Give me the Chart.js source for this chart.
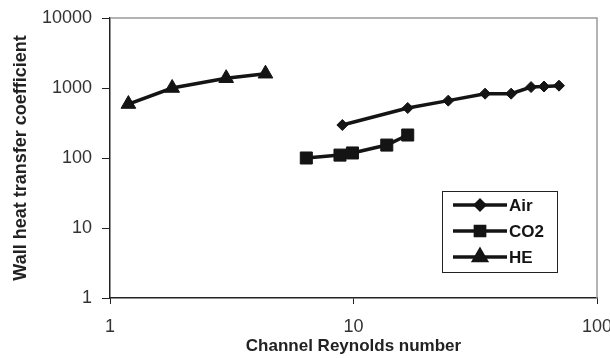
<!DOCTYPE html>
<html><head><meta charset="utf-8">
<script src="https://cdn.jsdelivr.net/npm/chart.js@4.4.1/dist/chart.umd.min.js"></script>
<style>html,body{margin:0;padding:0;background:#fff}#wrap{width:610px;height:358px}</style>
</head><body><div id="wrap"><canvas id="c" width="610" height="358"></canvas></div>
<script>
const seriesNames = ['Air', 'CO2', 'HE'];
const airRe = [9.0, 16.7, 24.5, 34.7, 44.4, 53.6, 60.6, 69.8];
const airH  = [296, 518, 660, 830, 830, 1030, 1050, 1080];
const co2Re = [6.4, 8.8, 9.9, 13.7, 16.7];
const co2H  = [100, 110, 118, 153, 213];
const heRe  = [1.19, 1.8, 3.0, 4.35];
const heH   = [590, 1000, 1380, 1600];
const xTicks = [1, 10, 100];
const yTicks = [1, 10, 100, 1000, 10000];

const pts = (xs, ys) => xs.map((x, i) => ({x, y: ys[i]}));
const ink = '#141414';
const FONT = '"Liberation Sans", Arial, sans-serif';
const styles = ['rectRot', 'rect', 'triangle'];
const radii = [5.5, 8.5, 8.5];
const legendRadii = [4.5, 6.5, 7];

const datasets = [pts(airRe, airH), pts(co2Re, co2H), pts(heRe, heH)].map((d, i) => ({
  label: seriesNames[i], data: d, showLine: true, borderColor: ink, backgroundColor: ink,
  borderWidth: 3.5, pointStyle: styles[i], pointRadius: radii[i], pointBorderWidth: 1,
  pointBorderColor: ink, pointBackgroundColor: ink
}));

const framePlugin = {
  id: 'frame',
  beforeDatasetsDraw(chart) {
    const {ctx, chartArea: a} = chart;
    ctx.save();
    ctx.strokeStyle = '#9a9a9a'; ctx.lineWidth = 1.5;
    ctx.beginPath();
    ctx.moveTo(a.left, a.top); ctx.lineTo(a.right, a.top); ctx.lineTo(a.right, a.bottom);
    ctx.stroke();
    ctx.restore();
  }
};

const legendPlugin = {
  id: 'boxLegend',
  afterDatasetsDraw(chart) {
    const ctx = chart.ctx;
    const bx = 442, by = 191, bw = 115, bh = 81;
    ctx.save();
    ctx.fillStyle = '#fff'; ctx.fillRect(bx, by, bw, bh);
    ctx.strokeStyle = '#222'; ctx.lineWidth = 1; ctx.strokeRect(bx + 0.5, by + 0.5, bw, bh);
    const rows = [205, 231, 257];
    chart.data.datasets.forEach((ds, i) => {
      const y = rows[i];
      ctx.strokeStyle = ink; ctx.lineWidth = 3.5;
      ctx.beginPath(); ctx.moveTo(453, y); ctx.lineTo(507, y); ctx.stroke();
      Chart.helpers.drawPoint(ctx, {pointStyle: ds.pointStyle, radius: legendRadii[i], rotation: 0, borderWidth: 1}, 480, y);
      ctx.fillStyle = ink; ctx.fill();
      ctx.font = 'bold 17px ' + FONT;
      ctx.textBaseline = 'middle'; ctx.textAlign = 'left';
      ctx.fillText(ds.label, 509, y + 1);
    });
    ctx.restore();
  }
};

new Chart(document.getElementById('c'), {
  type: 'scatter',
  data: {datasets},
  options: {
    responsive: false, animation: false, devicePixelRatio: 1,
    layout: {padding: {top: 18, right: 13, left: 0, bottom: 0}},
    plugins: {legend: {display: false}, tooltip: {enabled: false}},
    scales: {
      x: {
        type: 'logarithmic', min: 1, max: 100,
        afterBuildTicks: s => { s.ticks = xTicks.map(v => ({value: v})); },
        afterFit: s => { s.height = 60; s.paddingLeft = 0; s.paddingRight = 0; },
        ticks: {color: '#333', font: {family: FONT, size: 18}, padding: 12, maxRotation: 0,
          callback: v => String(v)},
        grid: {drawOnChartArea: false, tickLength: 6, color: '#222', lineWidth: 1},
        border: {display: true, color: '#222', width: 1.5},
        title: {display: true, text: 'Channel Reynolds number', color: '#222',
          font: {family: FONT, size: 17, weight: 'bold'}, padding: {top: 0, bottom: 1}}
      },
      y: {
        type: 'logarithmic', min: 1, max: 10000,
        afterBuildTicks: s => { s.ticks = yTicks.map(v => ({value: v})); },
        afterFit: s => { s.width = 110; s.paddingTop = 0; s.paddingBottom = 0; },
        ticks: {color: '#333', font: {family: FONT, size: 18}, padding: 10,
          callback: v => String(v)},
        grid: {drawOnChartArea: false, tickLength: 8, color: '#222', lineWidth: 1},
        border: {display: true, color: '#222', width: 1.5},
        title: {display: true, text: 'Wall heat transfer coefficient', color: '#222',
          font: {family: FONT, size: 18, weight: 'bold'}, padding: {top: 10, bottom: 0}}
      }
    }
  },
  plugins: [framePlugin, legendPlugin]
});
</script></body></html>
